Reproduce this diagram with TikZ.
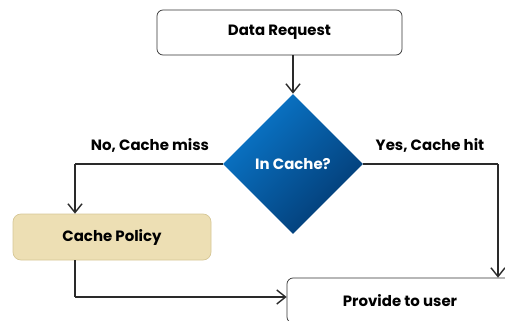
\documentclass[tikz,border=0pt]{standalone}
\usepackage{fontspec}
\setmainfont{Poppins}
\usetikzlibrary{shapes.geometric,arrows.meta}

\definecolor{policyfill}{HTML}{EDDFB4}
\definecolor{policyline}{HTML}{D6C796}
\definecolor{diamtop}{HTML}{0A78CC}
\definecolor{diambot}{HTML}{033A72}
\definecolor{linegray}{HTML}{2A2A2A}

\begin{document}
\begin{tikzpicture}[font=\bfseries\fontsize{8.5}{10}\selectfont]

\tikzstyle{box1}=[rectangle, draw=black!80, rounded corners=0.12cm, fill=white, minimum height=0.9cm]
\tikzstyle{box2}=[rectangle, draw=policyline, rounded corners=0.16cm, fill=policyfill, minimum width=3.96cm, minimum height=0.92cm]
\tikzstyle{decide}=[diamond, minimum width=2.8cm, minimum height=2.8cm, inner sep=0pt, text=white, top color=diamtop, bottom color=diambot, shading angle=45]
\tikzstyle{arrow}=[-{Straight Barb[length=5pt,width=8pt]}, draw=linegray, thick]
\tikzstyle{line}=[draw=linegray, thick]

\useasboundingbox (0,0) rectangle (10.1,6.4);

\node (A) [box1, minimum width=4.9cm] at (5.59, 5.75) {Data Request};

\node (C) [decide] at (5.86, 3.12) {In Cache?};

\node (D) [box2] at (2.24, 1.66) {Cache Policy};

\node (E) [box1, minimum width=4.52cm] at (8.0, 0.39) {Provide to user};

\node (G) at (3.0, 3.5) {No, Cache miss};
\node (H) at (8.6, 3.5) {Yes, Cache hit};

\coordinate (m1) at (1.5, 3.12);
\coordinate (m2) at (9.96, 3.12);
\coordinate (m3) at (1.5, 0.46);

\draw [arrow] (A.south -| C.north) -- (C.north);
\draw [line] (C.west) -- (m1);
\draw [arrow] (m1) -- (m1 |- D.north);
\draw [line] (C.east) -- (m2);
\draw [arrow] (m2) -- (m2 |- E.north);
\draw [line] (D.south -| m3) -- (m3);
\draw [arrow] (m3) -- (m3 -| E.west);

\end{tikzpicture}
\end{document}
